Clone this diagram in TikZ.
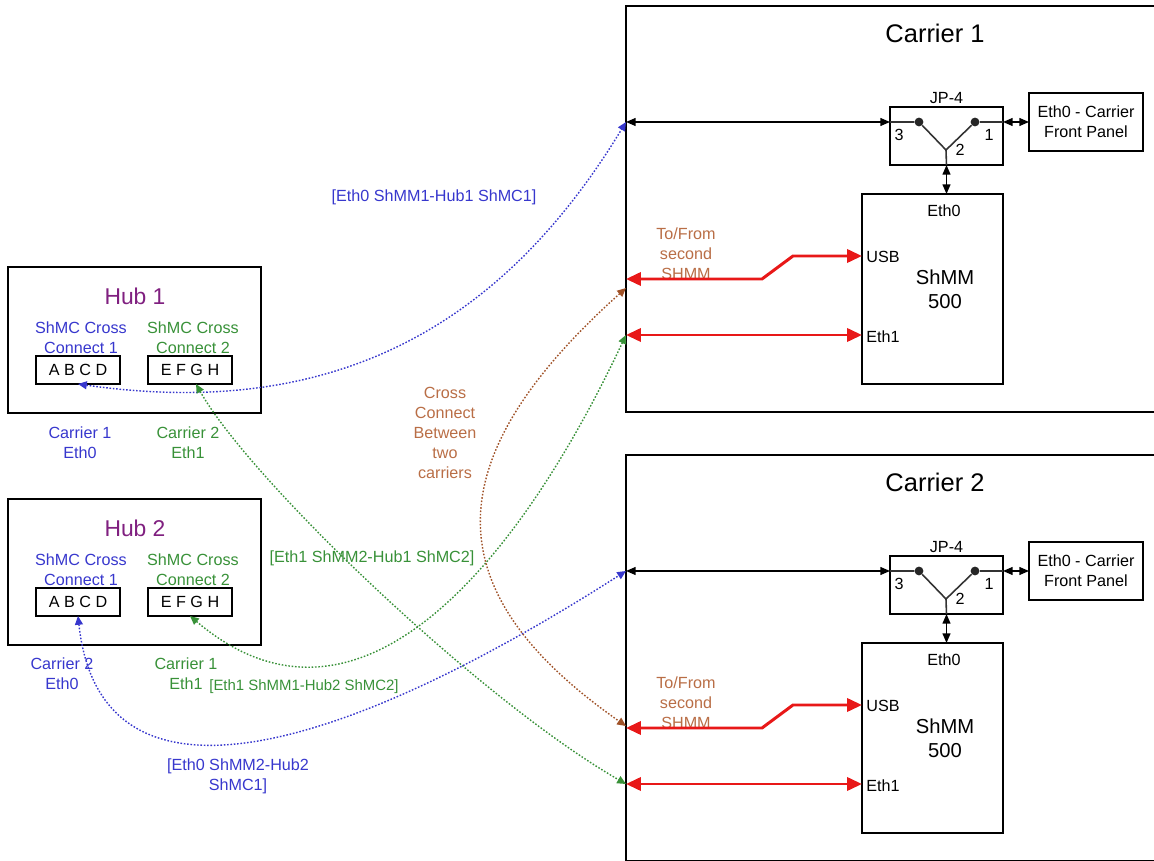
\documentclass[tikz,border=0pt]{standalone}
\usepackage{fontspec}
\setmainfont{Liberation Sans}
\usetikzlibrary{arrows.meta,positioning}
\definecolor{linkblue}{RGB}{55,55,205}
\definecolor{linkgreen}{RGB}{56,145,56}
\definecolor{hubpurple}{RGB}{128,32,128}
\definecolor{crossbrown}{RGB}{160,82,40}
\definecolor{xtext}{RGB}{185,110,70}
\definecolor{usbred}{RGB}{232,24,24}
\newcommand{\lbl}{\fontsize{9.2}{11.3}\selectfont}
\tikzset{
  sz/.style 2 args={minimum width=#1*0.02cm, minimum height=#2*0.02cm},
  box_base/.style={draw=black, inner sep=0pt, outer sep=0pt, anchor=north west},
  carrier_box/.style={box_base, line width=1.1pt},
  plain_box/.style={box_base, line width=0.9pt, align=center, font=\lbl},
  hub_box/.style={box_base, line width=1.7pt},
  port_box/.style={box_base, line width=0.8pt, font=\lbl},
  txt/.style={inner sep=0pt, align=center, font=\lbl},
  jdot/.style={circle, fill=black!85, inner sep=0pt, minimum size=5pt},
  blk_arrow/.style={>={Triangle[length=5.5pt,width=4.5pt]}, <->, line width=0.8pt},
  red_arrow/.style={>={Triangle[length=8.5pt,width=7.5pt]}, <->, usbred, line width=1.7pt},
  dot_link/.style={>={Triangle[length=5pt,width=4.5pt]}, <->, line width=0.8pt, dash pattern=on 0.9pt off 1pt}
}

\begin{document}
\begin{tikzpicture}[x=0.02cm, y=-0.02cm]
\useasboundingbox (0,0) rectangle (1154,861);

\foreach \i/\o in {1/0, 2/232}{
\node[hub_box, sz={253}{146}] (hub\i) at (8,{267+\o}) {};
\node[txt, font=\fontsize{13}{15}\selectfont, text=hubpurple] (hubt\i) at (135,{296+\o}) {Hub \i};
\node[txt, text=linkblue] (sca\i) at (81,{338+\o}) {ShMC Cross\\Connect 1};
\node[txt, text=linkgreen] (scb\i) at (193,{338+\o}) {ShMC Cross\\Connect 2};
\node[port_box, sz={84}{28}] (abcd\i) at (36,{356+\o}) {A B C D};
\node[port_box, sz={84}{28}] (efgh\i) at (148,{356+\o}) {E F G H};
}
\node[txt, text=linkblue] (ca1) at (80,443) {Carrier 1\\Eth0};
\node[txt, text=linkgreen] (cb1) at (188,443) {Carrier 2\\Eth1};
\node[txt, text=linkblue] (ca2) at (62,674) {Carrier 2\\Eth0};
\node[txt, text=linkgreen] (cb2) at (186,674) {Carrier 1\\Eth1};

\foreach \i/\o in {1/0, 2/449}{
\node[carrier_box, sz={540}{406}] (car\i) at (626,{6+\o}) {};
\node[txt, font=\fontsize{14.5}{17}\selectfont] (cart\i) at (935,{33+\o}) {Carrier \i};
\node[plain_box, sz={113}{58}] (jp\i) at (890,{107+\o}) {};
\node[txt, above=1.8pt of jp\i] (jpt\i) {JP-4};
\node[jdot] (pin3\i) at (919,{122+\o}) {};
\node[jdot] (pin1\i) at (975,{122+\o}) {};
\coordinate (pin2\i) at (946,{150+\o});
\node[txt] (n3\i) at (899,{135+\o}) {3};
\node[txt] (n1\i) at (989,{135+\o}) {1};
\node[txt] (n2\i) at (960,{150+\o}) {2};
\node[plain_box, sz={114}{58}] (fp\i) at (1029,{93+\o}) {Eth0 - Carrier\\Front Panel};
\node[plain_box, sz={141}{190}] (shmm\i) at (862,{194+\o}) {};
\node[txt, font=\fontsize{11.5}{13.6}\selectfont] (shmmt\i) at (945,{289+\o}) {ShMM\\500};
\node[txt] (eth0\i) at (944,{211+\o}) {Eth0};
\node[txt, anchor=west] (usb\i) at (866,{257+\o}) {USB};
\node[txt, anchor=west] (eth1\i) at (866,{337+\o}) {Eth1};
\node[txt, text=xtext] (tofrom\i) at (686,{254+\o}) {To/From\\second\\SHMM};
\coordinate (pj\i) at (626,{122+\o});
\coordinate (pu\i) at (626,{279+\o});
\coordinate (pe\i) at (626,{335+\o});
\coordinate (ku\i) at (762,{279+\o});
\coordinate (kv\i) at (793,{256+\o});
\draw[blk_arrow] (pj\i) -- (jp\i.west |- pj\i);
\draw[line width=0.9pt, black!80] (jp\i.west |- pj\i) -- (pin3\i) -- (pin2\i) -- (pin1\i) -- (jp\i.east |- pin1\i);
\draw[line width=0.9pt, black!80] (pin2\i) -- (jp\i.south);
\draw[blk_arrow] (jp\i.east |- pin1\i) -- (fp\i.west |- pin1\i);
\draw[blk_arrow] (jp\i.south) -- (jp\i.south |- shmm\i.north);
\draw[red_arrow] (pu\i) -- (ku\i) -- (kv\i) -- (shmm\i.west |- kv\i);
\draw[red_arrow] (pe\i) -- (shmm\i.west |- pe\i);
}

\coordinate (xa) at (626,288);
\coordinate (xb) at (626,726);
\draw[dot_link, linkblue] (abcd1.south) .. controls (330,420) and (500,330) .. (pj1);
\draw[dot_link, linkgreen] ([xshift=0.12cm]efgh1.south) .. controls (250,480) and (480,700) .. (pe2);
\draw[dot_link, linkgreen] (efgh2.south) .. controls (360,760) and (520,560) .. (pe1);
\draw[dot_link, linkblue] (abcd2.south) .. controls (100,820) and (330,760) .. (pj2);
\draw[dot_link, crossbrown] (xa) .. controls (434,460) and (434,592) .. (xb);

\node[txt, text=linkblue] (lk1) at (434,197) {[Eth0 ShMM1-Hub1 ShMC1]};
\node[txt, text=linkgreen] (lk2) at (372,558) {[Eth1 ShMM2-Hub1 ShMC2]};
\node[txt, text=linkgreen, font=\fontsize{8.5}{10}\selectfont] (lk3) at (304,687) {[Eth1 ShMM1-Hub2 ShMC2]};
\node[txt, text=linkblue] (lk4) at (238,776) {[Eth0 ShMM2-Hub2\\ShMC1]};
\node[txt, text=xtext] (xlbl) at (445,433) {Cross\\Connect\\Between\\two\\carriers};
\end{tikzpicture}
\end{document}
